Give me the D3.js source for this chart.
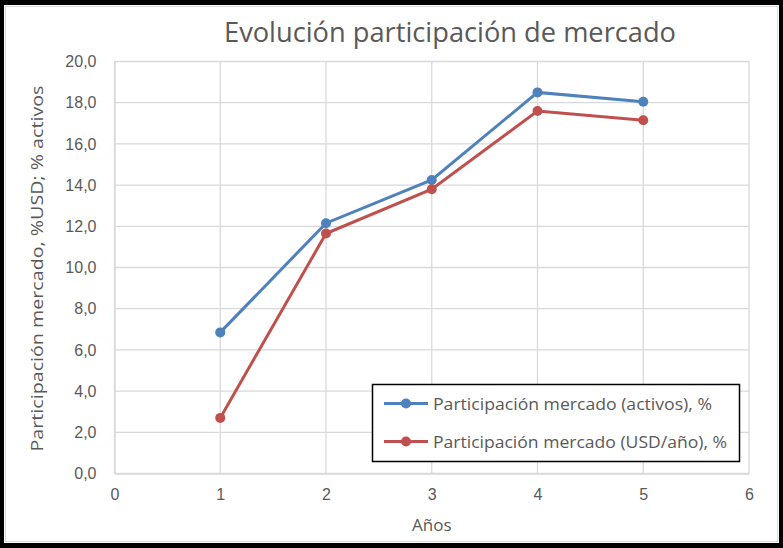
<!DOCTYPE html>
<html>
<head>
<meta charset="utf-8">
<script src="https://cdn.jsdelivr.net/npm/d3@7"></script>
<style>
  body { margin: 0; background: #000; }
  svg { display: block; font-family: "Open Sans", "DejaVu Sans", sans-serif; }
</style>
</head>
<body>
<div id="chart"></div>
<script>
// Data
const years = [1, 2, 3, 4, 5];
const activos = [6.85, 12.15, 14.25, 18.5, 18.05];
const usdAnio = [2.7, 11.65, 13.8, 17.6, 17.15];
const xTicks = [0, 1, 2, 3, 4, 5, 6];
const yTicks = [0, 2, 4, 6, 8, 10, 12, 14, 16, 18, 20];
const seriesNames = [
  "Participación mercado (activos), %",
  "Participación mercado (USD/año), %"
];
const seriesColors = ["#4f81bd", "#c0504d"];

const width = 783;
const height = 548;
const margin = { top: 61.5, right: 34, bottom: 74.5, left: 114.5 };
const textColor = "#595959";
const gridColor = "#d9d9d9";

const svg = d3
  .select("#chart")
  .append("svg")
  .attr("width", width)
  .attr("height", height);

// Black frame with white chart area
svg.append("rect").attr("width", width).attr("height", height).attr("fill", "#000");
svg.append("rect")
  .attr("x", 4).attr("y", 5)
  .attr("width", 775).attr("height", 538)
  .attr("fill", "#fff");
svg.append("rect")
  .attr("x", 5.5).attr("y", 6.5)
  .attr("width", 772).attr("height", 535)
  .attr("fill", "none")
  .attr("stroke", gridColor)
  .attr("stroke-width", 1);

const xScale = d3.scaleLinear().domain([0, 6]).range([margin.left, width - margin.right]);
const yScale = d3.scaleLinear().domain([0, 20]).range([height - margin.bottom, margin.top]);

// Gridlines
svg.append("g")
  .selectAll("line.h")
  .data(yTicks)
  .join("line")
  .attr("x1", margin.left).attr("x2", width - margin.right)
  .attr("y1", (d) => yScale(d)).attr("y2", (d) => yScale(d))
  .attr("stroke", gridColor).attr("stroke-width", 1.3);

svg.append("g")
  .selectAll("line.v")
  .data(xTicks)
  .join("line")
  .attr("x1", (d) => xScale(d)).attr("x2", (d) => xScale(d))
  .attr("y1", yScale(0)).attr("y2", yScale(20))
  .attr("stroke", gridColor).attr("stroke-width", 1.3);

// Axes (labels only, the lines are the gridlines)
const xAxis = svg.append("g")
  .attr("transform", `translate(0, ${yScale(0)})`)
  .call(d3.axisBottom(xScale).tickValues(xTicks).tickSize(0).tickPadding(15).tickFormat(d3.format("d")));
const yAxis = svg.append("g")
  .attr("transform", `translate(${margin.left}, 0)`)
  .call(d3.axisLeft(yScale).tickValues(yTicks).tickSize(0).tickPadding(18)
    .tickFormat((d) => d.toFixed(1).replace(".", ",")));
[xAxis, yAxis].forEach((ax) => {
  ax.select(".domain").attr("stroke", gridColor).attr("stroke-width", 1.3);
  ax.selectAll("text").attr("fill", textColor).style("font-size", "16px");
});

// Lines and markers
const line = d3.line().x((d) => xScale(d[0])).y((d) => yScale(d[1]));
[activos, usdAnio].forEach((vals, i) => {
  const pts = years.map((y, j) => [y, vals[j]]);
  svg.append("path")
    .datum(pts)
    .attr("d", line)
    .attr("fill", "none")
    .attr("stroke", seriesColors[i])
    .attr("stroke-width", 3);
  svg.append("g")
    .selectAll("circle")
    .data(pts)
    .join("circle")
    .attr("cx", (d) => xScale(d[0]))
    .attr("cy", (d) => yScale(d[1]))
    .attr("r", 5)
    .attr("fill", seriesColors[i]);
});

// Title and axis titles
svg.append("text")
  .attr("x", 450).attr("y", 42)
  .attr("text-anchor", "middle")
  .attr("fill", textColor)
  .style("font-size", "27px")
  .attr("textLength", 452)
  .attr("lengthAdjust", "spacingAndGlyphs")
  .text("Evolución participación de mercado");

svg.append("text")
  .attr("x", xScale(3)).attr("y", 531)
  .attr("text-anchor", "middle")
  .attr("fill", textColor)
  .style("font-size", "17px")
  .text("Años");

svg.append("text")
  .attr("transform", `translate(43, ${(yScale(0) + yScale(20)) / 2 + 1}) rotate(-90)`)
  .attr("text-anchor", "middle")
  .attr("fill", textColor)
  .style("font-size", "17px")
  .attr("textLength", 366)
  .attr("lengthAdjust", "spacingAndGlyphs")
  .text("Participación mercado, %USD; % activos");

// Legend
const legend = svg.append("g");
legend.append("rect")
  .attr("x", 372.5).attr("y", 384.5)
  .attr("width", 367).attr("height", 77)
  .attr("fill", "#fff")
  .attr("stroke", "#000")
  .attr("stroke-width", 1.5);
const legendWidths = [279, 294];
seriesNames.forEach((name, i) => {
  const cy = 403.5 + i * 38;
  legend.append("line")
    .attr("x1", 384).attr("x2", 428)
    .attr("y1", cy).attr("y2", cy)
    .attr("stroke", seriesColors[i]).attr("stroke-width", 3);
  legend.append("circle")
    .attr("cx", 406).attr("cy", cy).attr("r", 5)
    .attr("fill", seriesColors[i]);
  legend.append("text")
    .attr("x", 433).attr("y", cy + 6)
    .attr("fill", textColor)
    .style("font-size", "17px")
    .attr("textLength", legendWidths[i])
    .attr("lengthAdjust", "spacingAndGlyphs")
    .text(name);
});
</script>
</body>
</html>
